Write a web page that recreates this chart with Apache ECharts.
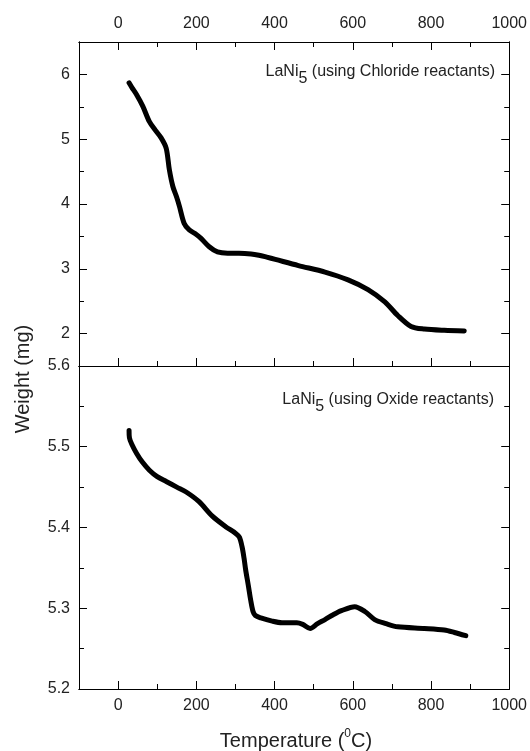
<!DOCTYPE html>
<html>
	<head>
		<meta charset="utf-8">
		<title></title>
		<script src='https://cdn.jsdelivr.net/npm/echarts@6/dist/echarts.min.js'></script>
		<style>
			body{ margin:0; background:#fff; }
			#chart{ width:530px; height:751px; }
		</style>
	</head>
	<body>
		<div id="chart"></div>
		<script>
			// LaNi5 from chloride reactants (top panel)
			const chlorideTemp = [28, 35, 47, 63, 80, 95, 110, 123, 131, 140, 150, 157, 169, 182, 200, 212, 233, 254, 280, 309, 340, 360, 380, 402, 461, 529, 588, 639, 682, 715, 749, 783, 834, 885];
			const chlorideWeight = [5.87, 5.80, 5.69, 5.51, 5.27, 5.14, 5.02, 4.86, 4.53, 4.27, 4.10, 3.96, 3.70, 3.60, 3.53, 3.47, 3.34, 3.26, 3.24, 3.24, 3.23, 3.21, 3.18, 3.145, 3.05, 2.95, 2.83, 2.68, 2.49, 2.28, 2.11, 2.07, 2.05, 2.04];
			// LaNi5 from oxide reactants (bottom panel)
			const oxideTemp = [28, 29, 35, 47, 62, 80, 100, 123, 150, 174, 207, 241, 275, 300, 310, 317, 322, 326, 333, 339, 345, 351, 365, 394, 419, 457, 472, 491, 510, 529, 550, 571, 605, 631, 656, 685, 715, 783, 834, 860, 889];
			const oxideWeight = [5.52, 5.511, 5.503, 5.492, 5.481, 5.471, 5.463, 5.457, 5.450, 5.444, 5.432, 5.414, 5.401, 5.393, 5.388, 5.376, 5.362, 5.348, 5.328, 5.310, 5.296, 5.291, 5.288, 5.284, 5.282, 5.282, 5.280, 5.275, 5.281, 5.286, 5.292, 5.297, 5.302, 5.296, 5.286, 5.281, 5.277, 5.275, 5.273, 5.270, 5.266];

			const tempRange = [-100, 1000];
			const topRange = [1.5, 6.5];
			const bottomRange = [5.2, 5.6];

			const font = "'Liberation Sans', Arial, sans-serif";
			const textColor = '#222';

			function pairs(xs, ys){
				return xs.map((x, i) => [x, ys[i]]);
			}

			// x axis helper: major = auto ticks (200), minor = every 100
			function xAxisDef(grid, pos, kind, labels){
				const a = {
					type:'value', gridIndex:grid, position:pos,
					min:tempRange[0], max:tempRange[1],
					splitLine:{show:false},
					axisLine:{onZero:false, lineStyle:{color:'#000', width:1}},
					axisTick:{show:kind !== 'none', inside:true, length:kind === 'minor' ? 5 : 8, lineStyle:{color:'#000'}},
					axisLabel:{show:!!labels, fontSize:16, fontFamily:font, color:textColor, margin:pos === 'top' ? 10 : 9,
						formatter:v => v < 0 ? '' : String(v)}
				};
				if(kind === 'minor') a.interval = 100;
				return a;
			}
			function yAxisDef(grid, pos, range, kind, labels, interval){
				const a = {
					type:'value', gridIndex:grid, position:pos,
					min:range[0], max:range[1],
					splitLine:{show:false},
					axisLine:{onZero:false, lineStyle:{color:'#000', width:1}},
					axisTick:{inside:true, length:kind === 'minor' ? 5 : 8, lineStyle:{color:'#000'}},
					axisLabel:{show:!!labels, fontSize:16, fontFamily:font, color:textColor, margin:9}
				};
				if(interval) a.interval = interval;
				return a;
			}

			const yTopMajor = yAxisDef(0, 'left', topRange, 'major', true);
			yTopMajor.axisLabel.formatter = v => Number.isInteger(v) ? String(v) : '';
			const yBotLeft = yAxisDef(1, 'left', bottomRange, 'major', true, 0.1);
			yBotLeft.minorTick = {show:true, splitNumber:2, length:5, lineStyle:{color:'#000'}};
			yBotLeft.axisLabel.formatter = v => v.toFixed(1);
			const yBotRight = yAxisDef(1, 'right', bottomRange, 'major', false, 0.1);
			yBotRight.minorTick = {show:true, splitNumber:2, length:5, lineStyle:{color:'#000'}};

			const chart = echarts.init(document.getElementById('chart'));
			const option = {
				backgroundColor:'#fff',
				animation:false,
				grid:[
					{left:79, top:42, width:433, height:324},
					{left:79, top:366, width:433, height:323}
				],
				xAxis:[
					xAxisDef(0, 'top', 'major', true),
					xAxisDef(0, 'top', 'minor', false),
					xAxisDef(0, 'bottom', 'major', false),
					xAxisDef(0, 'bottom', 'minor', false),
					xAxisDef(1, 'bottom', 'major', true),
					xAxisDef(1, 'bottom', 'minor', false),
					xAxisDef(1, 'top', 'none', false)
				],
				yAxis:[
					yTopMajor,
					yAxisDef(0, 'left', topRange, 'minor', false, 0.5),
					yAxisDef(0, 'right', topRange, 'major', false),
					yAxisDef(0, 'right', topRange, 'minor', false, 0.5),
					yBotLeft,
					yBotRight
				],
				graphic:[
					{
						type:'text', x:495, y:72,
						style:{
							text:'{n|LaNi}{s|5}{n| (using Chloride reactants)}',
							align:'right', verticalAlign:'middle', fill:textColor,
							rich:{
								n:{fontSize:16, fontFamily:font, lineHeight:30, fill:textColor},
								s:{fontSize:16, fontFamily:font, lineHeight:16, verticalAlign:'bottom', fill:textColor}
							}
						}
					},
					{
						type:'text', x:494, y:400,
						style:{
							text:'{n|LaNi}{s|5}{n| (using Oxide reactants)}',
							align:'right', verticalAlign:'middle', fill:textColor,
							rich:{
								n:{fontSize:16, fontFamily:font, lineHeight:30, fill:textColor},
								s:{fontSize:16, fontFamily:font, lineHeight:16, verticalAlign:'bottom', fill:textColor}
							}
						}
					},
					{
						type:'text', x:296, y:741,
						style:{
							text:'{n|Temperature (}{p|0}{n|C)}',
							align:'center', verticalAlign:'middle', fill:textColor,
							rich:{
								n:{fontSize:20, fontFamily:font, lineHeight:26, fill:textColor},
								p:{fontSize:12, fontFamily:font, lineHeight:12, verticalAlign:'top', fill:textColor}
							}
						}
					},
					{
						type:'text', x:23, y:379, rotation:Math.PI / 2,
						style:{
							text:'Weight (mg)', font:'20px ' + font,
							align:'center', verticalAlign:'middle', fill:textColor
						}
					}
				],
				series:[
					{
						name:'Chloride', type:'line', xAxisIndex:0, yAxisIndex:0,
						data:pairs(chlorideTemp, chlorideWeight),
						smooth:0.3, showSymbol:false,
						lineStyle:{color:'#000', width:5, cap:'round', join:'round'}
					},
					{
						name:'Oxide', type:'line', xAxisIndex:4, yAxisIndex:4,
						data:pairs(oxideTemp, oxideWeight),
						smooth:0.3, showSymbol:false,
						lineStyle:{color:'#000', width:5, cap:'round', join:'round'}
					}
				]
			};
			chart.setOption(option);
		</script>
	</body>
</html>
